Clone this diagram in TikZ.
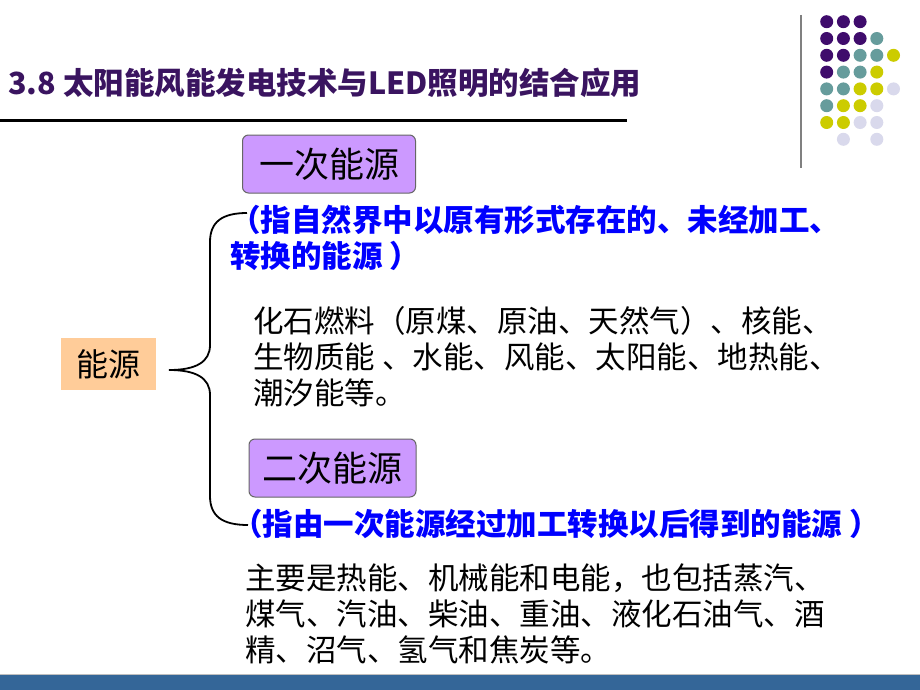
\documentclass[tikz,border=0pt]{standalone}
\usepackage{fontspec}
\setmainfont{Noto Sans CJK SC}
\definecolor{titlecol}{HTML}{3A1460}
\definecolor{dotP}{HTML}{3F0C6C}
\definecolor{dotT}{HTML}{669C9C}
\definecolor{dotY}{HTML}{CCCC00}
\definecolor{dotL}{HTML}{D9D9EC}
\definecolor{barcol}{HTML}{346698}
\definecolor{boxpurple}{HTML}{CC99FF}
\definecolor{boxpeach}{HTML}{FFCC99}
\tikzset{
  catbox/.style={draw=black!60, line width=1pt, fill=boxpurple, rounded corners=6pt, inner sep=0pt,
    minimum height=58pt, font=\fontsize{35}{35}\selectfont},
  bodytxt/.style={anchor=base west, inner sep=0pt, align=left, font=\fontsize{30.5}{36}\selectfont},
  bluetxt/.style={bodytxt, text=blue, font=\bfseries\fontsize{30.5}{36}\selectfont},
  dot/.style={circle, inner sep=0pt, minimum size=13pt}
}
\begin{document}
\begin{tikzpicture}[x=1pt,y=-1pt]
\useasboundingbox (0,0) rectangle (920,690);
\fill[white] (0,0) rectangle (920,690);
% title
\node[anchor=west, inner sep=0pt, text=titlecol, font=\bfseries\fontsize{30.5}{30.5}\selectfont] (title) at (8,83) {3.8 太阳能风能发电技术与LED照明的结合应用};
\coordinate (tl1) at (0,120.5);
\coordinate (tl2) at (627,120.5);
\draw[line width=3.3pt] (tl1) -- (tl2);
% vertical gray line
\coordinate (vl1) at (801,15);
\coordinate (vl2) at (801,168);
\draw[line width=2pt, gray] (vl1) -- (vl2);
% dots
\foreach \x/\y/\c in {
 0/0/P,1/0/P,2/0/P,
 0/1/P,1/1/P,2/1/P,3/1/T,
 0/2/P,1/2/P,2/2/T,3/2/T,4/2/Y,
 0/3/P,1/3/T,2/3/T,3/3/Y,
 0/4/T,1/4/T,2/4/Y,3/4/Y,4/4/L,
 0/5/T,1/5/Y,2/5/Y,3/5/L,
 0/6/Y,1/6/Y,2/6/L,3/6/L,
 1/7/L,3/7/L}{
  \node[dot, fill=dot\c] (d\x\y) at ({826.7+16.7*\x},{21.7+16.8*\y}) {};
}
% bottom bar
\fill[barcol] (0,674) rectangle (920,690);
\draw[black!25, line width=0.8pt] (0,674) -- (920,674);
% main box
\node[fill=boxpeach, minimum width=95pt, minimum height=52pt, inner sep=0pt, font=\fontsize{32}{32}\selectfont] (energy) at (108.5,364) {能源};
% brace
\coordinate (btop) at (247,213);
\coordinate (btip) at (169,370);
\coordinate (bbot) at (248,525);
\draw[line width=1.8pt] (btop) .. controls (222,213) and (210,222) .. (210,242) -- (210,345)
  .. controls (210,362) and (196,370) .. (btip)
  .. controls (196,370) and (210,378) .. (210,395) -- (210,496)
  .. controls (210,516) and (222,525) .. (bbot);
% category boxes
\node[catbox, minimum width=173pt] (prim) at (329,164) {一次能源};
\node[catbox, minimum width=167pt] (sec) at (332.5,468) {二次能源};
% texts (base anchor = baseline of last line)
\node[bluetxt] (primdef) at (230,267) {（指自然界中以原有形式存在的、未经加工、\\转换的能源 ）};
\node[bodytxt] (primlist) at (253,404) {化石燃料（原煤、原油、天然气）、核能、\\生物质能 、水能、风能、太阳能、地热能、\\潮汐能等。};
\node[bluetxt] (secdef) at (232,535) {（指由一次能源经过加工转换以后得到的能源 ）};
\node[bodytxt] (seclist) at (245,661) {主要是热能、机械能和电能，也包括蒸汽、\\煤气、汽油、柴油、重油、液化石油气、酒\\精、沼气、氢气和焦炭等。};
\end{tikzpicture}
\end{document}
